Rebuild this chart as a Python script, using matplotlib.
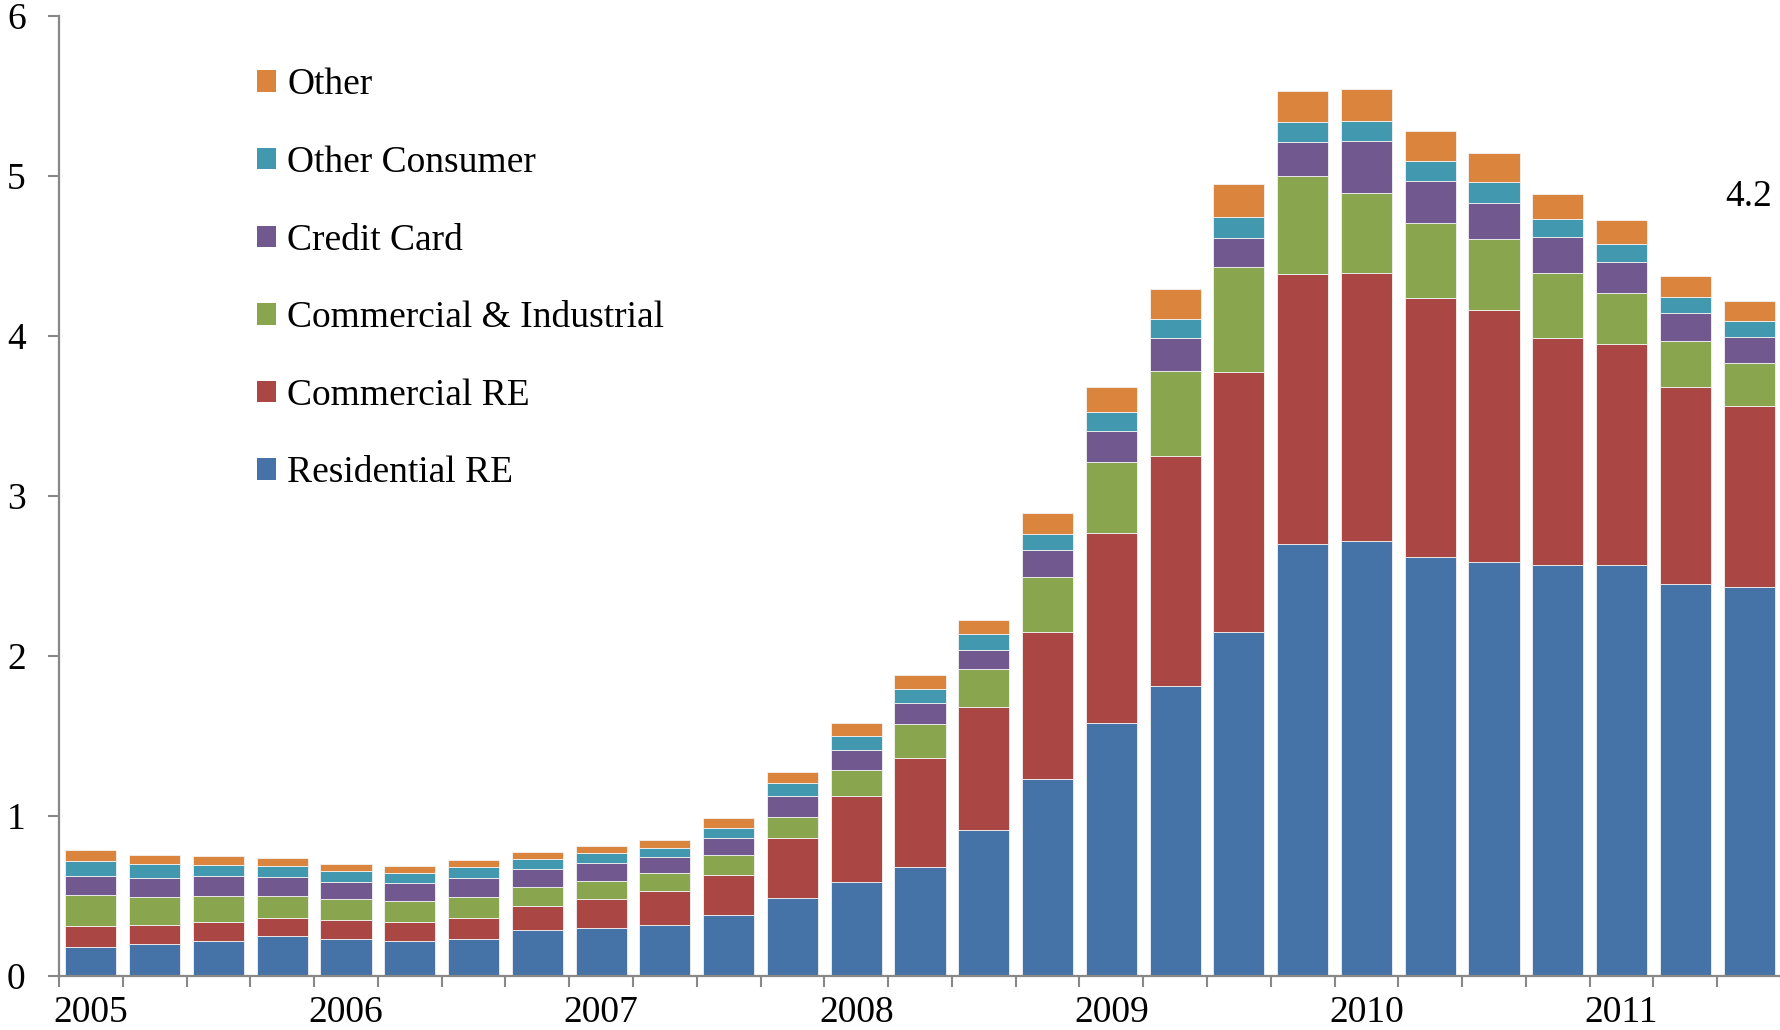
import matplotlib
matplotlib.use("Agg")
import matplotlib.pyplot as plt
from matplotlib.patches import Patch
import numpy as np

plt.rcParams['font.family'] = ['Liberation Serif', 'DejaVu Serif']

quarters = [f"{y}Q{q}" for y in range(2005, 2012) for q in range(1, 5)][:27]
year_labels = ["2005", "2006", "2007", "2008", "2009", "2010", "2011"]

residential_re = [0.18, 0.20, 0.22, 0.25, 0.23, 0.22, 0.23, 0.29, 0.30, 0.32, 0.38, 0.49, 0.59, 0.68,
                  0.91, 1.23, 1.58, 1.81, 2.15, 2.70, 2.72, 2.62, 2.59, 2.57, 2.57, 2.45, 2.43]
commercial_re = [0.13, 0.12, 0.12, 0.11, 0.12, 0.12, 0.13, 0.15, 0.18, 0.21, 0.25, 0.375, 0.536, 0.682,
                 0.769, 0.917, 1.190, 1.443, 1.622, 1.687, 1.673, 1.620, 1.570, 1.416, 1.379, 1.234, 1.135]
comm_industrial = [0.194, 0.176, 0.162, 0.142, 0.134, 0.131, 0.135, 0.115, 0.116, 0.115, 0.125, 0.128, 0.161, 0.215,
                   0.239, 0.347, 0.443, 0.531, 0.660, 0.614, 0.503, 0.468, 0.445, 0.409, 0.317, 0.286, 0.265]
credit_card = [0.121, 0.114, 0.121, 0.118, 0.106, 0.113, 0.115, 0.113, 0.109, 0.096, 0.105, 0.129, 0.127, 0.129,
               0.122, 0.167, 0.196, 0.206, 0.181, 0.209, 0.321, 0.263, 0.229, 0.223, 0.198, 0.171, 0.162]
other_consumer = [0.094, 0.088, 0.069, 0.069, 0.067, 0.062, 0.069, 0.064, 0.063, 0.062, 0.066, 0.084, 0.088, 0.086,
                  0.096, 0.099, 0.113, 0.114, 0.129, 0.125, 0.127, 0.121, 0.127, 0.113, 0.110, 0.100, 0.101]
other = [0.066, 0.061, 0.055, 0.050, 0.046, 0.044, 0.044, 0.042, 0.043, 0.046, 0.063, 0.071, 0.077, 0.087,
         0.086, 0.134, 0.158, 0.192, 0.209, 0.198, 0.198, 0.190, 0.184, 0.156, 0.153, 0.134, 0.125]

series_names = ["Residential RE", "Commercial RE", "Commercial & Industrial",
                "Credit Card", "Other Consumer", "Other"]
series_values = [residential_re, commercial_re, comm_industrial, credit_card, other_consumer, other]
colors = ["#4572A7", "#AA4643", "#89A54E", "#71588F", "#4198AF", "#DB843D"]
last_label = "4.2"

FS = 27

fig = plt.figure(figsize=(17.81, 10.30), dpi=100)
ax = fig.add_axes([59/1781, 1 - 976/1030, 1 - 59/1781, (976 - 16)/1030])

x = np.arange(len(quarters))
bottom = np.zeros(len(quarters))
for name, vals, c in zip(series_names, series_values, colors):
    v = np.array(vals)
    ax.bar(x, v, bottom=bottom, width=0.8, color=c, edgecolor="#f2f2f2", linewidth=0.6, label=name)
    bottom += v

ax.set_xlim(-0.5, len(quarters) - 0.5)
ax.set_ylim(0, 6)

for s in ["top", "right"]:
    ax.spines[s].set_visible(False)
for s in ["left", "bottom"]:
    ax.spines[s].set_color("#888888")
    ax.spines[s].set_linewidth(1.6)

ax.set_yticks(range(0, 7))
ax.tick_params(axis="y", direction="out", length=8, width=1.5, color="#888888",
               labelsize=FS, pad=16)
ax.set_xticks(x[::4])
ax.set_xticklabels(year_labels)
ax.set_xticks(np.arange(-0.5, len(quarters), 1), minor=True)
ax.tick_params(axis="x", which="major", length=0, labelsize=FS, pad=14)
ax.tick_params(axis="x", which="minor", direction="out", length=8, width=1.5, color="#888888")

ax.text(x[-1], 4.87, last_label, ha="center", va="center", fontsize=FS)

handles = [Patch(facecolor=c, edgecolor="none") for c in colors][::-1]
ax.legend(handles, series_names[::-1], loc="upper left", bbox_to_anchor=(0.115, 0.946),
          frameon=False, fontsize=FS, handlelength=0.5, handleheight=0.5,
          handletextpad=0.3, labelspacing=1.15, borderpad=0, borderaxespad=0)

fig.savefig("out.png", dpi=100)
